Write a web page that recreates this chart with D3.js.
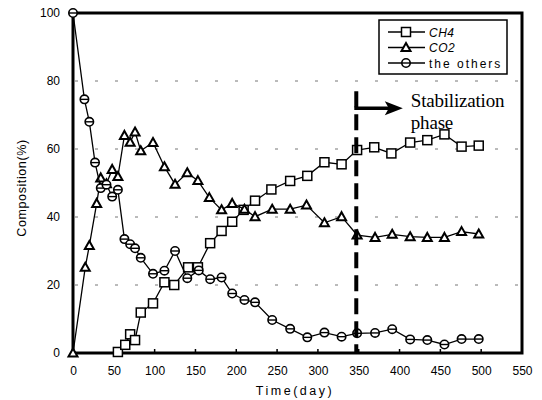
<!DOCTYPE html>
<html><head><meta charset="utf-8">
<script src="https://cdn.jsdelivr.net/npm/d3@7"></script>
<style>body{margin:0;background:#fff}svg{display:block}</style>
</head><body><svg id="c" width="542" height="400"></svg>
<script>
const xTicks = [0,50,100,150,200,250,300,350,400,450,500,550];
const yTicks = [0,20,40,60,80,100];
const ch4Days = [55,64,70,76,83,98,112,124,141,153,168,182,195,209,223,243,266,287,308,329,348,369,390,413,434,455,476,497];
const ch4 = [0.3,2.4,5.5,3.8,11.9,14.6,20.8,20.0,25.2,25.2,32.3,35.9,38.6,42.1,44.8,48.1,50.6,52.1,56.1,55.5,59.7,60.5,58.7,61.9,62.6,64.3,60.7,61];
const co2Days = [0,15,20,29,34,41,48,55,63,70,76,83,98,112,125,140,153,167,182,195,210,223,244,266,286,308,329,348,370,391,413,434,455,476,497];
const co2 = [0,25.2,31.6,44,51.5,49.8,54,51.9,64,62,65,59.5,61.9,54.8,49.6,53,50.7,45.7,42.1,44,42.3,40.1,42.3,42.3,43.5,38.3,40.1,34.7,34,34.9,34.2,34,34,35.7,35];
const otherDays = [0,14,20,27,34,41,48,55,63,70,76,83,98,112,125,140,154,168,182,195,210,223,244,266,287,308,329,348,370,391,413,434,455,476,497];
const others = [100,74.6,68,56,48.5,49.5,46,48,33.5,32,30.8,28,23.3,24.2,30,22,24.3,21.7,22.2,17.5,15.6,14.9,9.7,7.1,4.6,6,4.8,5.8,5.9,7,4,3.8,2.5,4.1,4.1];
const seriesNames = ["CH4","CO2","the others"];
const stabDay = 347, stabTop = 77, arrowY = 72, arrowEnd = 404;
const annoLines = ["Stabilization","phase"];

const svg = d3.select("#c");
const L=73,R=522,T=13,B=353;
const x = d3.scaleLinear().domain([0,550]).range([L,R]);
const y = d3.scaleLinear().domain([0,100]).range([B,T]);

// grid
svg.append("g").selectAll("line").data([20,40,60,80]).join("line")
  .attr("x1",L+2).attr("x2",R-2).attr("y1",d=>y(d)).attr("y2",d=>y(d))
  .attr("stroke","#777").attr("stroke-width",1).attr("stroke-dasharray","3,17");

// axes
const xa = svg.append("g").attr("transform",`translate(0,${B})`)
  .call(d3.axisBottom(x).tickValues(xTicks).tickSize(0).tickPadding(13));
xa.select(".domain").remove();
xa.selectAll("text").attr("font-family","Liberation Sans, Arial").attr("font-size",12).attr("fill","#000");
svg.append("g").selectAll("line").data(xTicks.slice(1,-1)).join("line")
  .attr("x1",d=>x(d)).attr("x2",d=>x(d)).attr("y1",B).attr("y2",B-4)
  .attr("stroke","#000").attr("stroke-width",1.5);
const ya = svg.append("g").attr("transform",`translate(${L},0)`)
  .call(d3.axisLeft(y).tickValues(yTicks).tickSize(0).tickPadding(13));
ya.select(".domain").remove();
ya.selectAll("text").attr("font-family","Liberation Sans, Arial").attr("font-size",12).attr("fill","#000");

svg.append("text").attr("transform",`translate(26,${(T+B)/2+5}) rotate(-90)`)
  .attr("text-anchor","middle").attr("font-family","Liberation Sans, Arial").attr("font-size",12.5)
  .attr("letter-spacing",0.6).text("Composition(%)");
svg.append("text").attr("x",295).attr("y",395).attr("text-anchor","middle")
  .attr("font-family","Liberation Sans, Arial").attr("font-size",12.5).attr("letter-spacing",2.5).text("Time(day)");

// frame
svg.append("rect").attr("x",L).attr("y",T).attr("width",R-L).attr("height",B-T)
  .attr("fill","none").attr("stroke","#000").attr("stroke-width",3);

const line = d3.line().x(d=>x(d[0])).y(d=>y(d[1]));
function marker(g,type){
  if(type===0){
    g.append("rect").attr("x",-4.5).attr("y",-4.5).attr("width",9).attr("height",9)
      .attr("fill","#fff").attr("stroke","#000").attr("stroke-width",1.5);
  } else if(type===1){
    g.append("path").attr("d","M0,-4.5L4.5,3.5L-4.5,3.5Z")
      .attr("fill","#fff").attr("stroke","#000").attr("stroke-width",2);
  } else {
    g.append("circle").attr("r",4.2).attr("fill","#fff").attr("stroke","#000").attr("stroke-width",1.6);
    g.append("line").attr("x1",-4).attr("x2",4).attr("stroke","#000").attr("stroke-width",1.4);
  }
}
const series = [[ch4Days,ch4],[co2Days,co2],[otherDays,others]];
series.forEach(([ds,vs],i)=>{
  const pts = ds.map((d,j)=>[d,vs[j]]);
  svg.append("path").datum(pts).attr("d",line).attr("fill","none").attr("stroke","#000").attr("stroke-width",1.3);
  svg.append("g").selectAll("g").data(pts).join("g")
    .attr("transform",d=>`translate(${x(d[0])},${y(d[1])})`).each(function(){marker(d3.select(this),i);});
});

// stabilization annotation
svg.append("line").attr("x1",x(stabDay)).attr("x2",x(stabDay)).attr("y1",y(stabTop)).attr("y2",B)
  .attr("stroke","#000").attr("stroke-width",4).attr("stroke-dasharray","16,7");
svg.append("line").attr("x1",x(stabDay)-2).attr("x2",x(arrowEnd)-12).attr("y1",y(arrowY)).attr("y2",y(arrowY))
  .attr("stroke","#000").attr("stroke-width",3.5);
svg.append("path").attr("d",`M${x(arrowEnd)},${y(arrowY)}L${x(arrowEnd)-18},${y(arrowY)-7}L${x(arrowEnd)-14},${y(arrowY)}L${x(arrowEnd)-18},${y(arrowY)+7}Z`).attr("fill","#000");
svg.append("text").attr("x",x(arrowEnd)+8).attr("y",y(arrowY)-1)
  .attr("font-family","Liberation Serif, Times New Roman").attr("font-size",19).attr("letter-spacing",-0.2).text(annoLines[0]);
svg.append("text").attr("x",x(arrowEnd)+8).attr("y",y(arrowY)+21)
  .attr("font-family","Liberation Serif, Times New Roman").attr("font-size",19).attr("letter-spacing",-0.2).text(annoLines[1]);

// legend
const lg = svg.append("g");
lg.append("rect").attr("x",379).attr("y",20).attr("width",128).attr("height",54)
  .attr("fill","#fff").attr("stroke","#000").attr("stroke-width",1.5);
seriesNames.forEach((n,i)=>{
  const yy = 32+i*15.5;
  lg.append("line").attr("x1",388).attr("x2",425).attr("y1",yy).attr("y2",yy).attr("stroke","#000").attr("stroke-width",1.3);
  const g = lg.append("g").attr("transform",`translate(406,${yy})`); marker(g,i);
  lg.append("text").attr("x",429).attr("y",yy+4.5).attr("font-family","Liberation Sans, Arial")
    .attr("font-size",12).attr("font-style",i<2?"italic":"normal").attr("letter-spacing",i<2?0.5:2).text(n);
});
</script></body></html>
